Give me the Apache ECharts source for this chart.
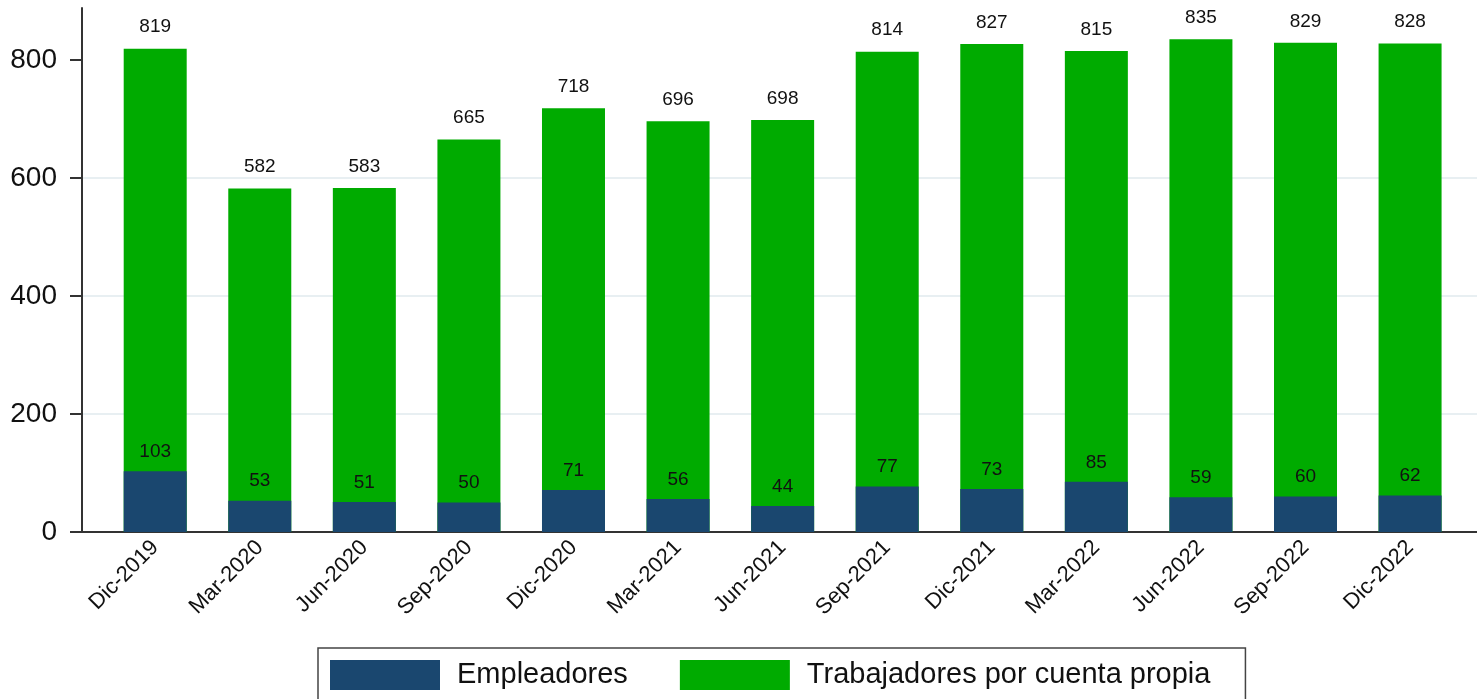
<!DOCTYPE html>
<html>
<head>
<meta charset="utf-8">
<script src="https://cdn.jsdelivr.net/npm/echarts@6/dist/echarts.min.js"></script>
<style>
html,body{margin:0;padding:0;background:#fff;}
#chart{width:1477px;height:699px;}
</style>
</head>
<body>
<div id="chart"></div>
<script>
// periodos
var categories = ['Dic-2019','Mar-2020','Jun-2020','Sep-2020','Dic-2020','Mar-2021','Jun-2021','Sep-2021','Dic-2021','Mar-2022','Jun-2022','Sep-2022','Dic-2022'];
// miles de personas
var empleadores = [103,53,51,50,71,56,44,77,73,85,59,60,62];
var cuentaPropia = [819,582,583,665,718,696,698,814,827,815,835,829,828];
var yTicks = [0,200,400,600,800];

var font = '"Liberation Sans", Arial, sans-serif';
var chart = echarts.init(document.getElementById('chart'));

function pairs(arr){
    return arr.map(function(v,i){ return [i, v]; });
}

chart.setOption({
    animation: false,
    grid: {left: 82, right: 0, top: 8, bottom: 167},
    legend: {
        data: ['Empleadores','Trabajadores por cuenta propia'],
        left: 318, top: 648,
        itemWidth: 110, itemHeight: 30, itemGap: 52,
        padding: [12, 35, 12, 12],
        borderColor: '#444', borderWidth: 1.5,
        icon: 'rect',
        textStyle: {fontFamily: font, fontSize: 29, color: '#111', padding: [0,0,0,12]}
    },
    xAxis: {
        type: 'value',
        min: -0.7, max: 12.64,
        splitLine: {show: false},
        axisTick: {show: false},
        axisLine: {show: true, onZero: false, lineStyle: {color: '#333', width: 2}},
        axisLabel: {
            customValues: categories.map(function(c,i){ return i; }),
            formatter: function(v){ return categories[v]; },
            rotate: 45, margin: 12,
            fontFamily: font, fontSize: 22, color: '#111'
        }
    },
    yAxis: {
        type: 'value',
        min: 0, max: 888,
        axisLine: {show: true, onZero: false, lineStyle: {color: '#333', width: 2}},
        axisTick: {show: true, length: 12, customValues: yTicks, lineStyle: {color: '#333', width: 2}},
        axisLabel: {customValues: yTicks, margin: 25, fontFamily: font, fontSize: 28, color: '#111'},
        splitLine: {show: true, showMinLine: false, showMaxLine: false, lineStyle: {color: '#e8eff2', width: 2}}
    },
    series: [
        {
            name: 'Trabajadores por cuenta propia',
            type: 'bar',
            data: pairs(cuentaPropia),
            barWidth: 63,
            barGap: '-100%',
            itemStyle: {color: '#00ab00'},
            label: {show: true, position: 'top', distance: 12, fontFamily: font, fontSize: 19, color: '#111',
                formatter: function(p){ return p.value[1]; }}
        },
        {
            name: 'Empleadores',
            type: 'bar',
            data: pairs(empleadores),
            barWidth: 63,
            barGap: '-100%',
            itemStyle: {color: '#1a476f'},
            label: {show: true, position: 'top', distance: 10, fontFamily: font, fontSize: 19, color: '#111',
                formatter: function(p){ return p.value[1]; }}
        }
    ]
});
</script>
</body>
</html>
